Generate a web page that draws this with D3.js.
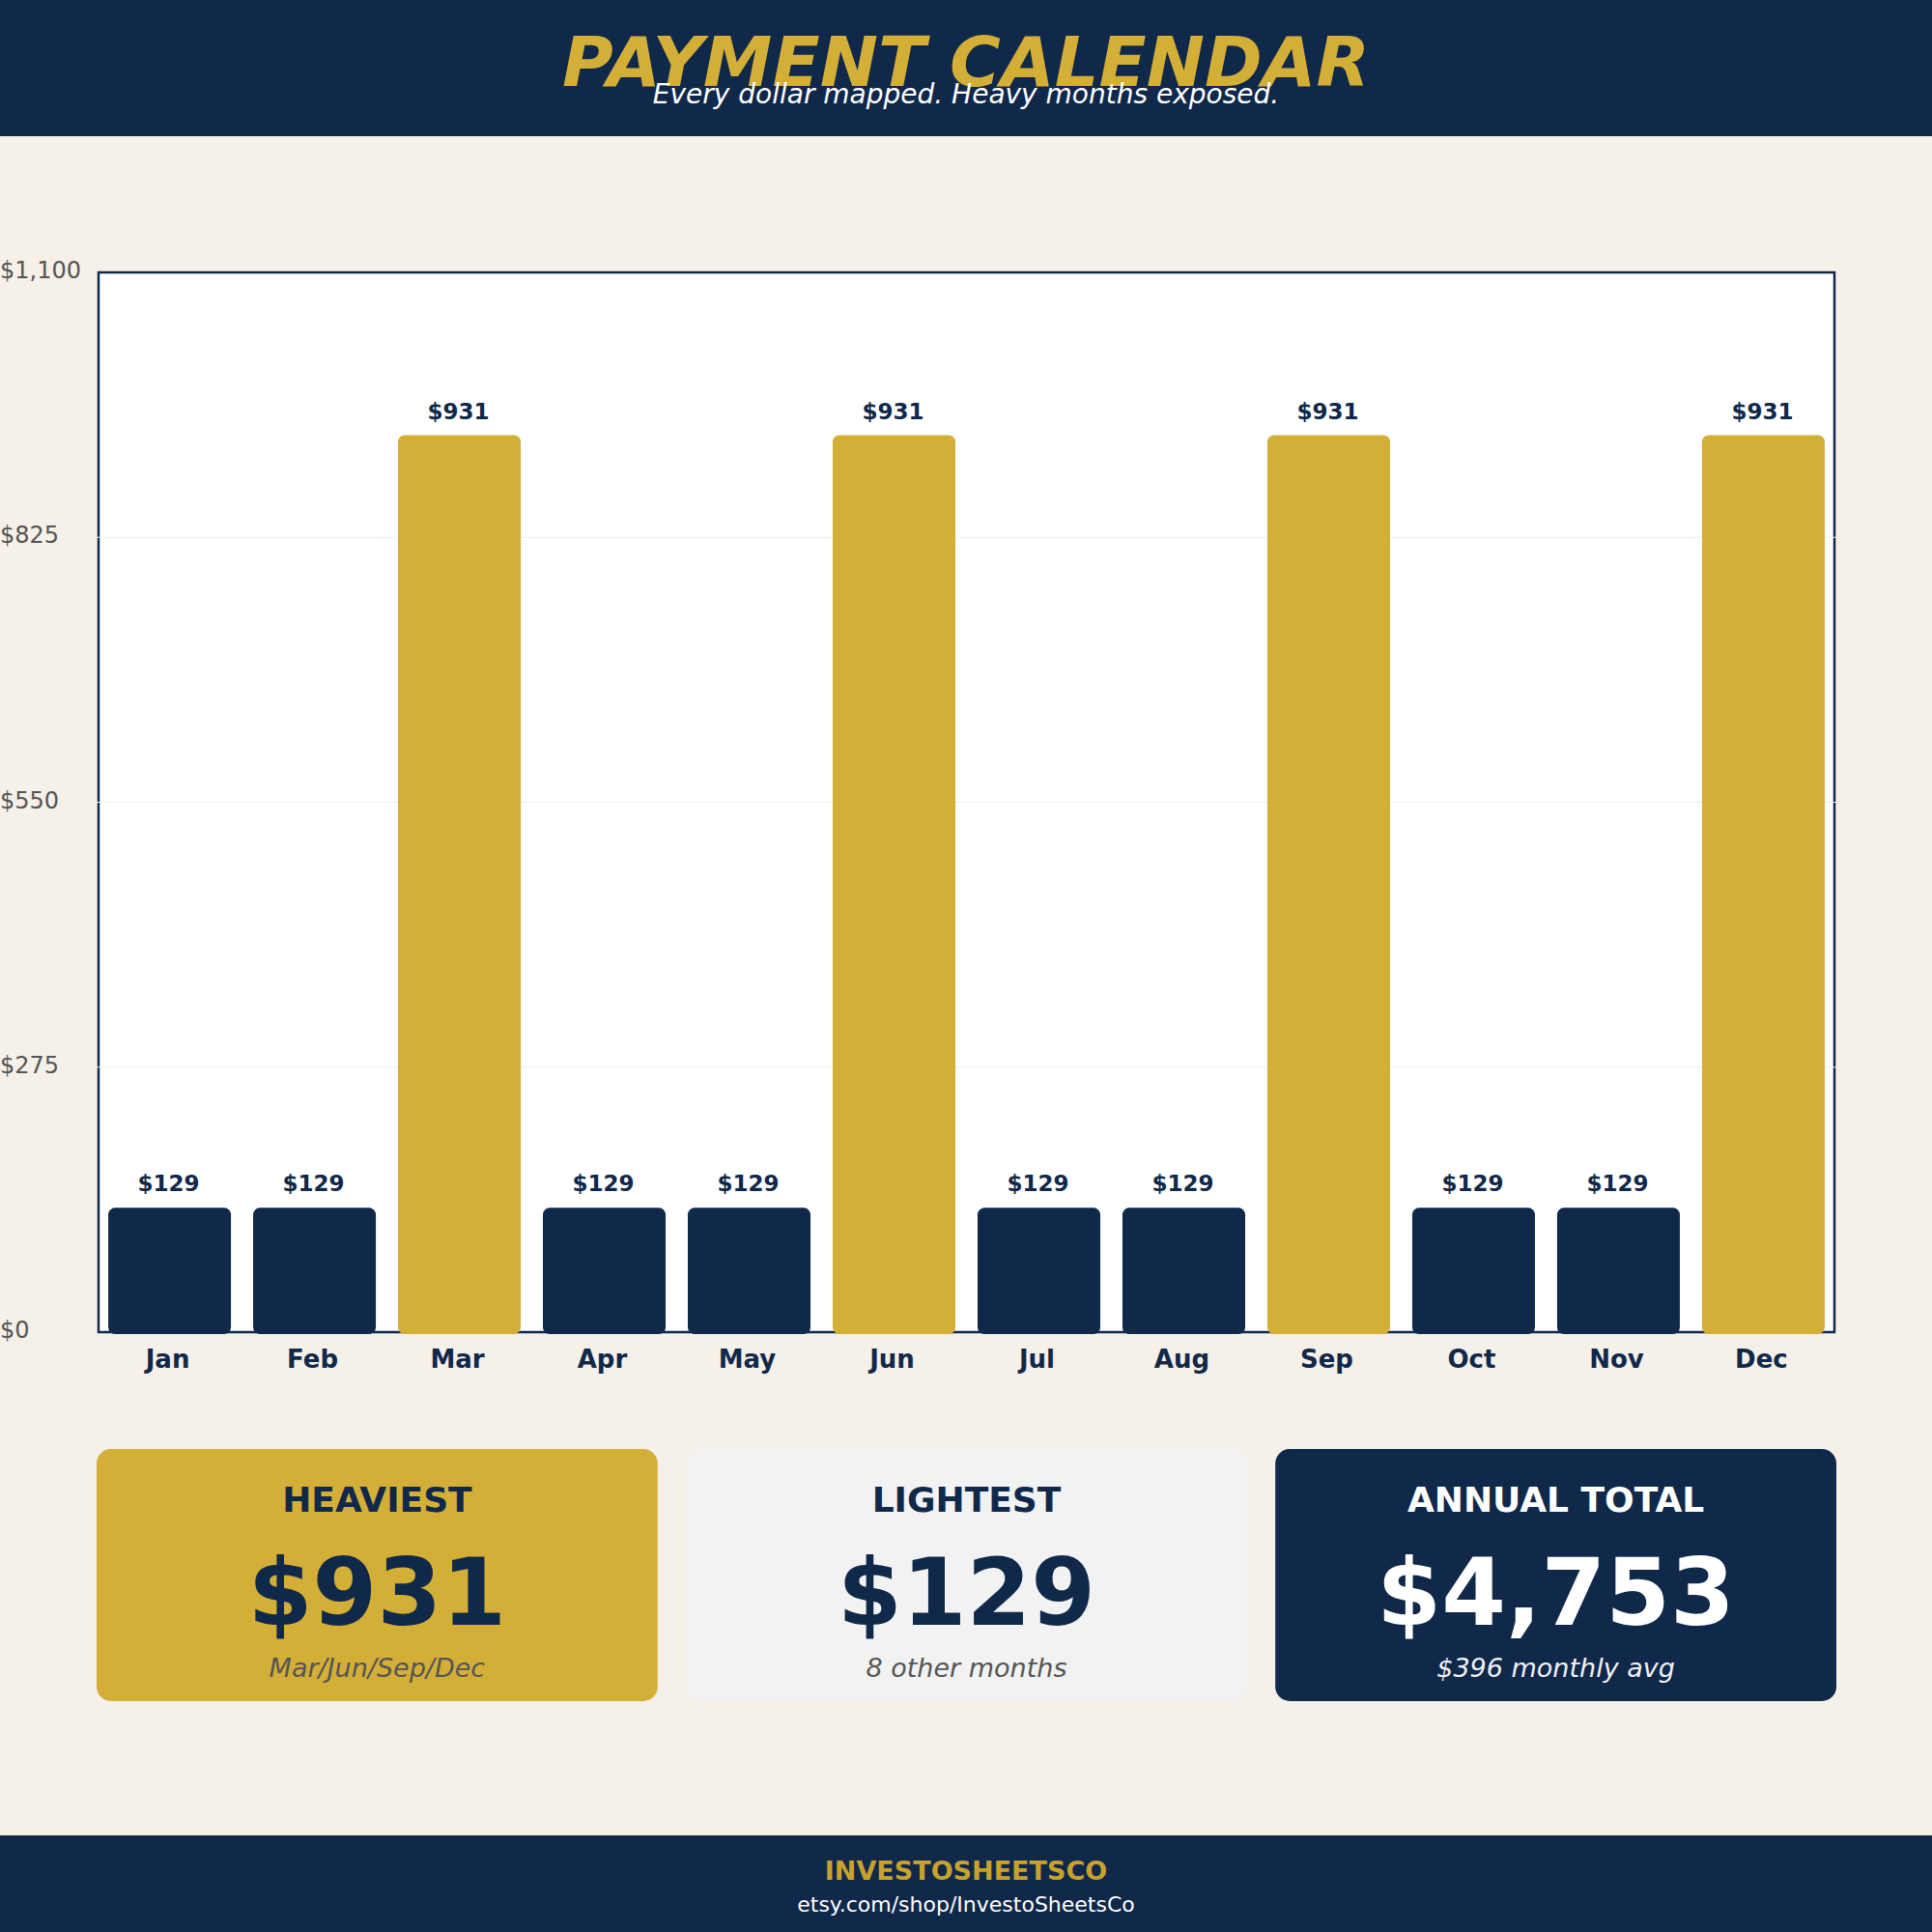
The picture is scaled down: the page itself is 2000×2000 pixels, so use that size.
<!DOCTYPE html>
<html lang="en">
<head>
    <meta charset="UTF-8">
    <title>Payment Calendar</title>
    <script src="https://cdn.jsdelivr.net/npm/d3@7"></script>
    <style>
        body { margin: 0; background: #f5f0e8; }
        svg text { font-family: "DejaVu Sans", sans-serif; }
    </style>
</head>
<body>
    <div id="chart"></div>
    <script>
        // data
        const months = ['Jan','Feb','Mar','Apr','May','Jun','Jul','Aug','Sep','Oct','Nov','Dec'];
        const payments = [129, 129, 931, 129, 129, 931, 129, 129, 931, 129, 129, 931];
        const yTicks = [0, 275, 550, 825, 1100];
        const cardTitles = ['HEAVIEST', 'LIGHTEST', 'ANNUAL TOTAL'];
        const cardValues = ['$931', '$129', '$4,753'];
        const cardNotes = ['Mar/Jun/Sep/Dec', '8 other months', '$396 monthly avg'];

        const navy = '#10284a';
        const gold = '#d4af37';
        const cream = '#f5f0e8';
        const W = 2000, H = 2000;
        const plot = {left: 102, right: 1899, top: 282, bottom: 1379};

        const svg = d3.select('#chart').append('svg')
            .attr('width', W).attr('height', H);

        svg.append('rect').attr('width', W).attr('height', H).attr('fill', cream);

        // header
        svg.append('rect').attr('width', W).attr('height', 141).attr('fill', navy);
        svg.append('text').text('PAYMENT CALENDAR')
            .attr('x', W/2).attr('y', 89)
            .attr('text-anchor', 'middle')
            .style('font-size', '72px').style('font-weight', 'bold').style('font-style', 'italic')
            .attr('fill', gold);
        svg.append('text').text('Every dollar mapped. Heavy months exposed.')
            .attr('x', W/2).attr('y', 107)
            .attr('text-anchor', 'middle')
            .style('font-size', '28px').style('font-style', 'italic')
            .attr('fill', '#ffffff');

        const xScale = d3.scaleBand()
            .domain(months)
            .range([plot.left, plot.right])
            .paddingInner(0.153)
            .paddingOuter(0.067);
        const yScale = d3.scaleLinear()
            .domain([0, 1100])
            .range([plot.bottom, plot.top]);

        // plot frame
        svg.append('rect')
            .attr('x', plot.left).attr('y', plot.top)
            .attr('width', plot.right - plot.left).attr('height', plot.bottom - plot.top)
            .attr('fill', '#ffffff').attr('stroke', navy).attr('stroke-width', 2.5);

        // grid
        svg.append('g').selectAll('line')
            .data(yTicks.filter(t => t > 0 && t < 1100))
            .enter().append('line')
            .attr('x1', plot.left - 2).attr('x2', plot.right + 2)
            .attr('y1', d => yScale(d)).attr('y2', d => yScale(d))
            .attr('stroke', '#eeeeee').attr('stroke-width', 1.2);

        // y labels
        svg.append('g').selectAll('text')
            .data(yTicks)
            .enter().append('text')
            .text(d => '$' + d3.format(',')(d))
            .attr('x', 0).attr('y', d => yScale(d))
            .attr('dy', '0.25em')
            .style('font-size', '24px')
            .attr('fill', '#555555');

        // bars
        const maxPay = d3.max(payments);
        svg.append('g').selectAll('rect')
            .data(payments)
            .enter().append('rect')
            .attr('x', (d, i) => xScale(months[i]))
            .attr('y', d => yScale(d))
            .attr('width', xScale.bandwidth())
            .attr('height', d => yScale(0) - yScale(d) + 2)
            .attr('rx', 7).attr('ry', 7)
            .attr('fill', d => d === maxPay ? gold : navy);

        // value labels
        svg.append('g').selectAll('text')
            .data(payments)
            .enter().append('text')
            .text(d => '$' + d)
            .attr('x', (d, i) => xScale(months[i]) + xScale.bandwidth()/2 - 1)
            .attr('y', d => yScale(d) - 17)
            .attr('text-anchor', 'middle')
            .style('font-size', '23px').style('font-weight', 'bold')
            .attr('fill', navy);

        // month labels
        svg.append('g').selectAll('text')
            .data(months)
            .enter().append('text')
            .text(d => d)
            .attr('x', d => xScale(d) + xScale.bandwidth()/2 - 2)
            .attr('y', 1416)
            .attr('text-anchor', 'middle')
            .style('font-size', '26px').style('font-weight', 'bold')
            .attr('fill', navy);

        // summary cards
        const cardFill = [gold, '#f2f2f2', navy];
        const cardMain = [navy, navy, '#ffffff'];
        const cardSub = ['#555555', '#555555', '#f2f2f2'];
        const cardX = d3.scaleBand().domain(d3.range(3)).range([100, 1901]).paddingInner(0.048);
        const cards = svg.append('g').selectAll('g')
            .data(cardTitles)
            .enter().append('g')
            .attr('transform', (d, i) => 'translate(' + cardX(i) + ',1500)');
        cards.append('rect')
            .attr('width', cardX.bandwidth()).attr('height', 261)
            .attr('rx', 15).attr('ry', 15)
            .attr('fill', (d, i) => cardFill[i]);
        cards.append('text').text(d => d)
            .attr('x', cardX.bandwidth()/2).attr('y', 65)
            .attr('text-anchor', 'middle')
            .style('font-size', '36px').style('font-weight', 'bold')
            .attr('fill', (d, i) => cardMain[i]);
        cards.append('text').text((d, i) => cardValues[i])
            .attr('x', cardX.bandwidth()/2).attr('y', 182)
            .attr('text-anchor', 'middle')
            .style('font-size', '96px').style('font-weight', 'bold')
            .attr('fill', (d, i) => cardMain[i]);
        cards.append('text').text((d, i) => cardNotes[i])
            .attr('x', cardX.bandwidth()/2).attr('y', 236)
            .attr('text-anchor', 'middle')
            .style('font-size', '27px').style('font-style', 'italic')
            .attr('fill', (d, i) => cardSub[i]);

        // footer
        svg.append('rect').attr('y', 1900).attr('width', W).attr('height', 100).attr('fill', navy);
        svg.append('text').text('INVESTOSHEETSCO')
            .attr('x', W/2).attr('y', 1946)
            .attr('text-anchor', 'middle')
            .style('font-size', '27px').style('font-weight', 'bold')
            .attr('fill', '#c9a22b');
        svg.append('text').text('etsy.com/shop/InvestoSheetsCo')
            .attr('x', W/2).attr('y', 1979)
            .attr('text-anchor', 'middle')
            .style('font-size', '22px')
            .attr('fill', '#ffffff');
    </script>
</body>
</html>
